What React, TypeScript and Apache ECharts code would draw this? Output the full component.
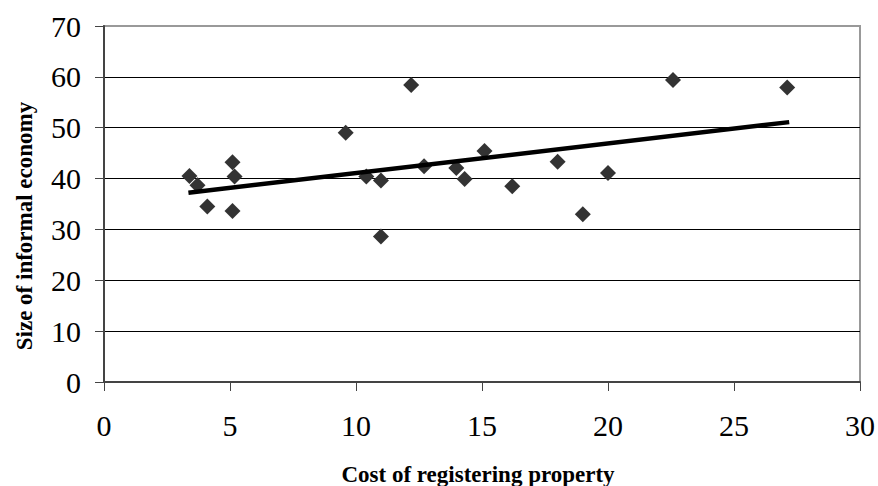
import React, { useEffect, useRef } from "react";
import * as echarts from "echarts";

const costOfRegistering = [3.39, 3.71, 4.1, 5.1, 5.18, 5.1, 9.59, 10.41, 10.99, 10.99, 12.19, 12.7, 13.98, 14.31, 15.1, 16.2, 18.0, 19.0, 20.0, 22.58, 27.11];
const informalEconomy = [40.5, 38.7, 34.5, 43.2, 40.4, 33.6, 49.0, 40.4, 39.6, 28.6, 58.4, 42.4, 42.1, 39.9, 45.4, 38.5, 43.3, 33.0, 41.1, 59.4, 57.9];
const trendX = [3.35, 27.19];
const trendY = [37.2, 51.1];
const xTitle = "Cost of registering property";
const yTitle = "Size of informal economy";

export default function App() {
  const ref = useRef<HTMLDivElement>(null);
  useEffect(() => {
    if (!ref.current) return;
    const chart = echarts.init(ref.current, null, { renderer: "svg" });
    const font = "'Liberation Serif', 'Times New Roman', serif";
    chart.setOption({
      animation: false,
      backgroundColor: "#fff",
      grid: {
        left: 104,
        top: 26,
        right: 16,
        bottom: 104,
        show: true,
        borderColor: "#999",
        borderWidth: 2,
        backgroundColor: "transparent",
      },
      xAxis: {
        type: "value",
        min: 0,
        max: 30,
        interval: 5,
        axisLine: { show: true, onZero: false, lineStyle: { color: "#444", width: 2 } },
        axisTick: { show: true, length: 9, lineStyle: { color: "#444", width: 1 } },
        axisLabel: { color: "#000", fontFamily: font, fontSize: 30, margin: 28 },
        splitLine: { show: false },
      },
      yAxis: {
        type: "value",
        min: 0,
        max: 70,
        interval: 10,
        axisLine: { show: true, lineStyle: { color: "#444", width: 2 } },
        axisTick: { show: true, length: 9, lineStyle: { color: "#444", width: 1 } },
        axisLabel: { color: "#000", fontFamily: font, fontSize: 30, margin: 23 },
        splitLine: {
          show: true,
          lineStyle: {
            color: ["#444", "#000", "#000", "#000", "#000", "#000", "#000", "#999"],
            width: 1,
          },
        },
      },
      graphic: [
        {
          type: "text",
          x: 478,
          y: 474,
          style: {
            text: xTitle,
            fontFamily: font,
            fontWeight: "bold",
            fontSize: 23,
            fill: "#000",
            align: "center",
            verticalAlign: "middle",
          },
        },
        {
          type: "text",
          x: 24,
          y: 226,
          rotation: Math.PI / 2,
          style: {
            text: yTitle,
            fontFamily: font,
            fontWeight: "bold",
            fontSize: 23,
            fill: "#000",
            align: "center",
            verticalAlign: "middle",
          },
        },
      ],
      series: [
        {
          type: "line",
          data: trendX.map((x, i) => [x, trendY[i]]),
          symbol: "none",
          lineStyle: { color: "#000", width: 4.5 },
          z: 3,
        },
        {
          type: "scatter",
          data: costOfRegistering.map((x, i) => [x, informalEconomy[i]]),
          symbol: "diamond",
          symbolSize: [16, 16],
          itemStyle: { color: "#333", opacity: 1 },
          z: 2,
        },
      ],
    });
    return () => chart.dispose();
  }, []);
  return (
    <div
      ref={ref}
      style={{ position: "absolute", left: 0, top: 0, width: 878, height: 486 }}
    />
  );
}
